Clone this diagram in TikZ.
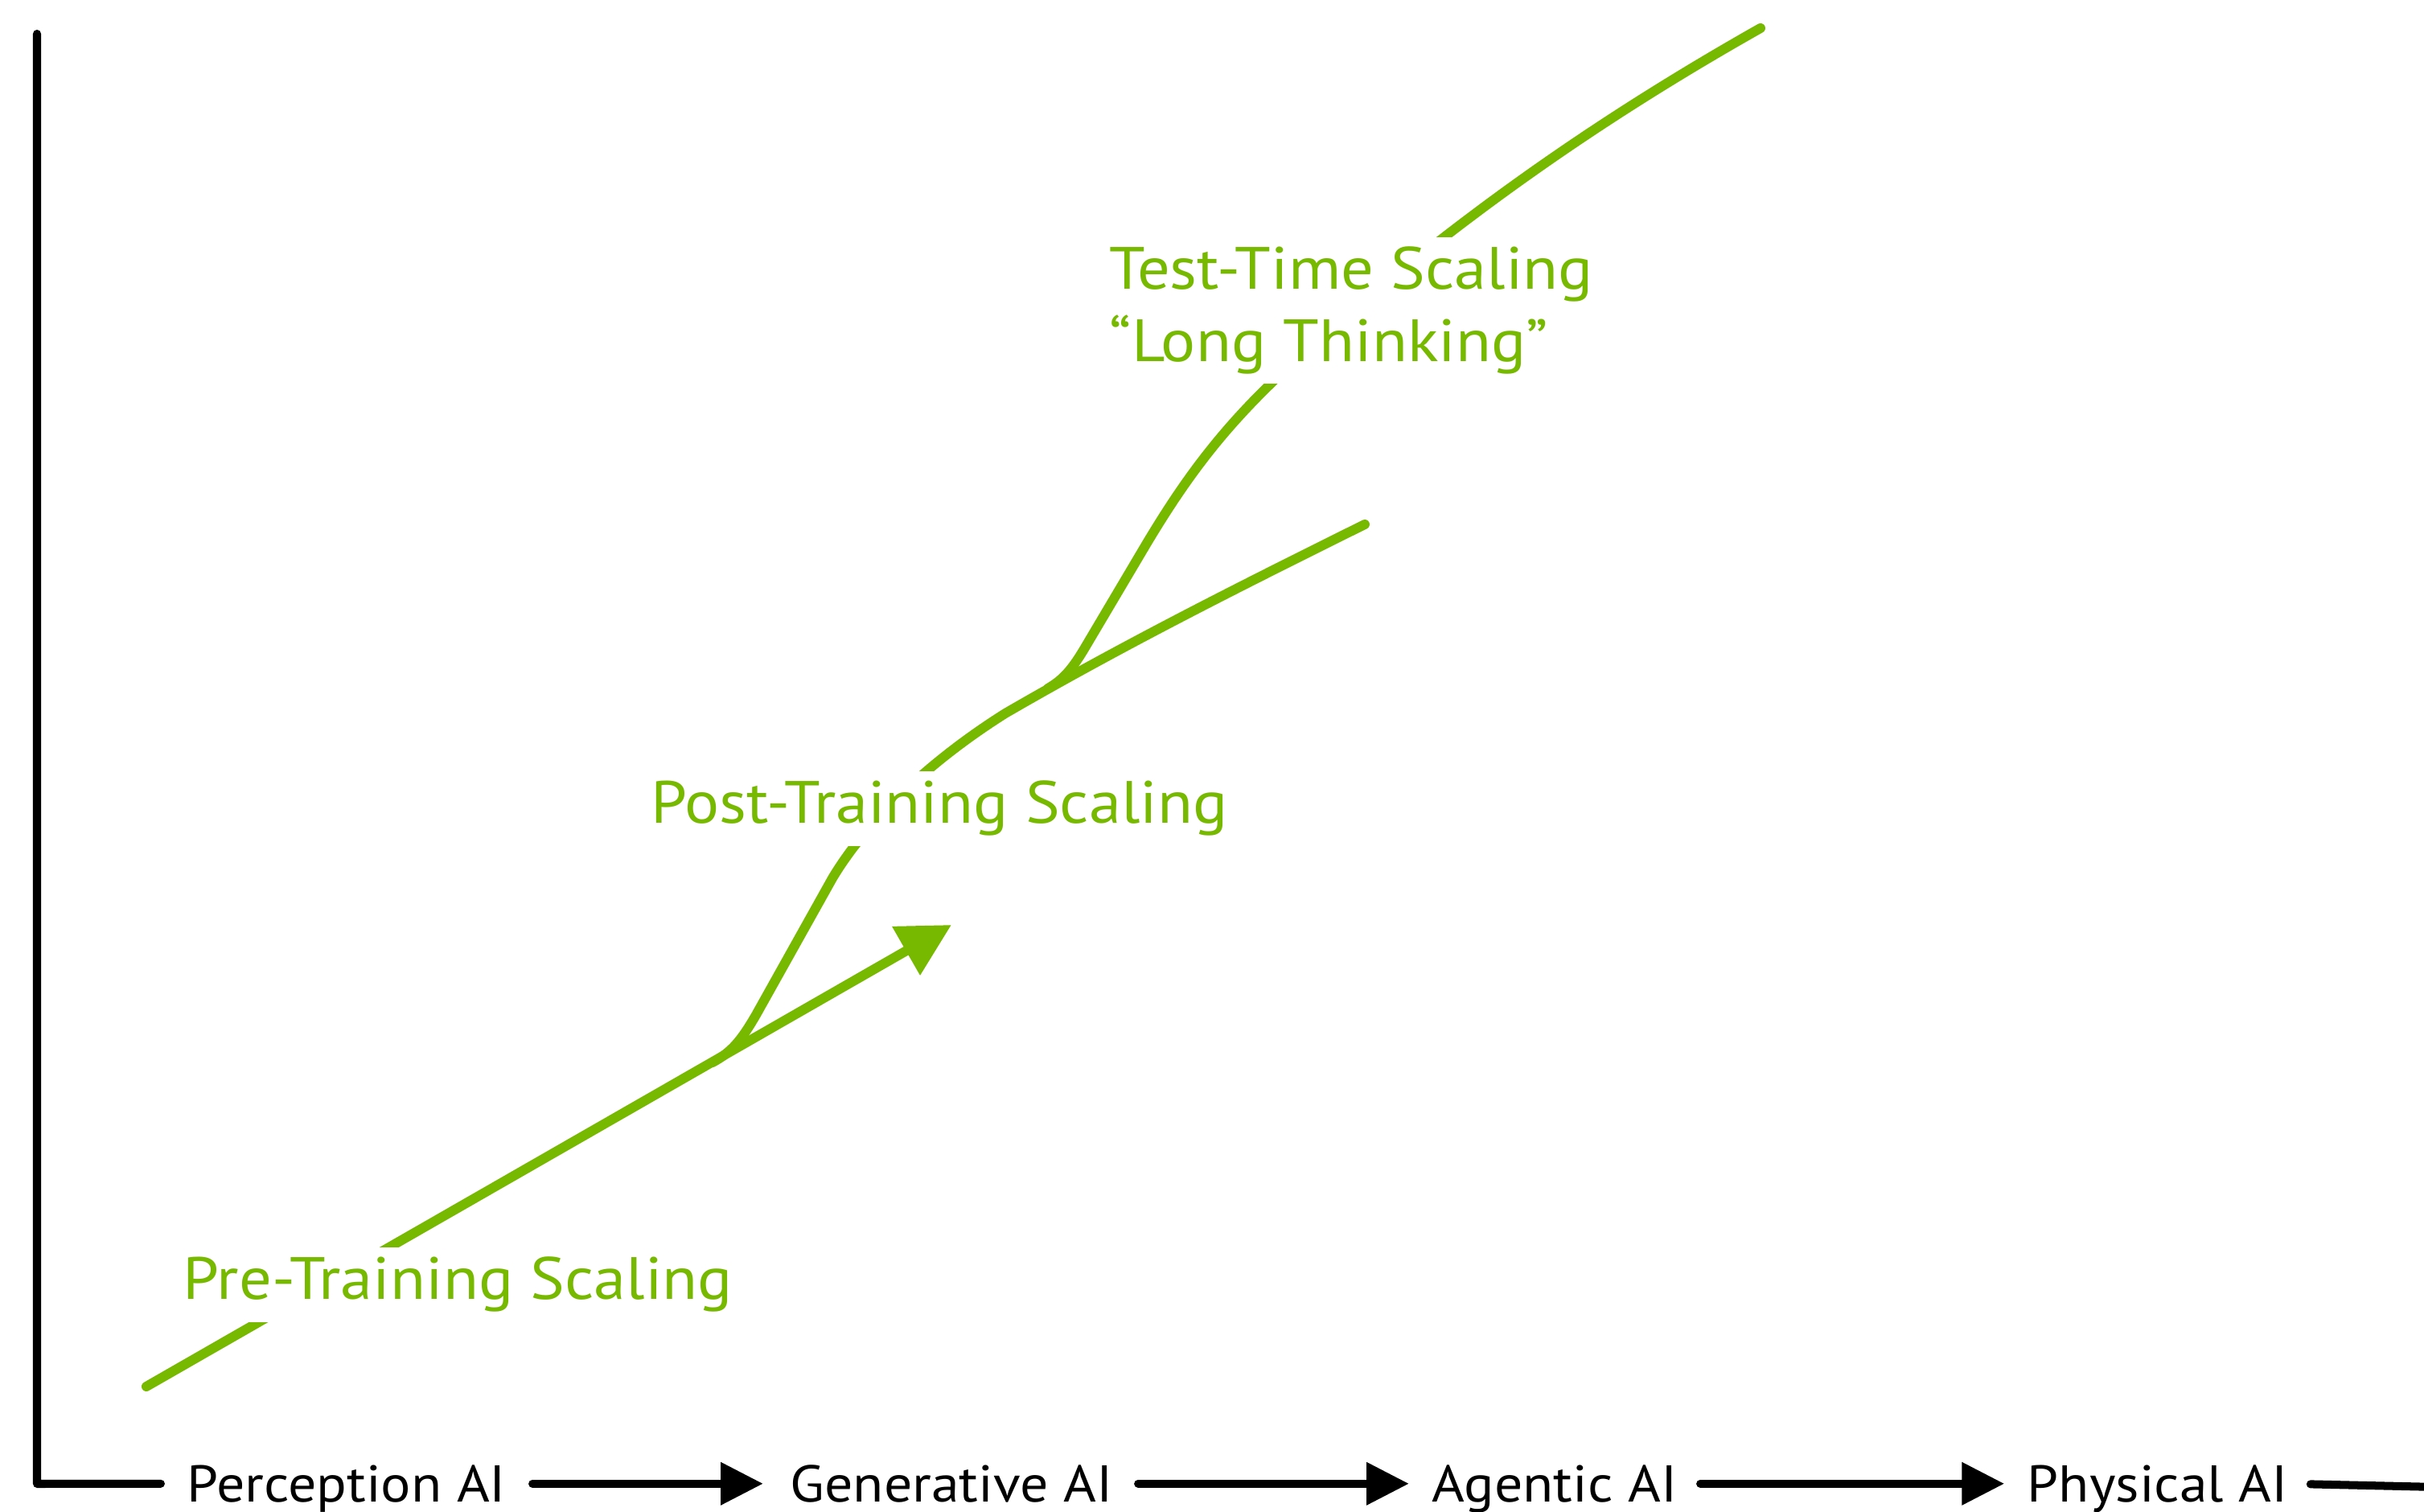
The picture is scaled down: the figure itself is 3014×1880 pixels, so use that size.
\documentclass[tikz,border=0pt]{standalone}
\usepackage{fontspec}
\setmainfont[FakeStretch=1.085]{PT Sans}
\usetikzlibrary{arrows.meta}
\definecolor{nvgreen}{HTML}{76B900}
\begin{document}
\begin{tikzpicture}[x=0.01cm,y=-0.01cm,
  axis/.style={line width=2.85pt, line cap=round, line join=round, black},
  stagearrow/.style={line width=2.85pt, line cap=round, black, -{Triangle[length=15pt,width=14.5pt]}},
  stagelabel/.style={font=\fontsize{18.3}{22}\selectfont, inner sep=0pt, text height=12.8pt, text depth=0pt, anchor=south},
  curve/.style={nvgreen, line width=3.4pt, line cap=round},
  glabel/.style={nvgreen, fill=white, font=\fontsize{21.1}{25.6}\selectfont, inner xsep=0.08cm, inner ysep=0.12cm, align=left},
]
\useasboundingbox (0,0) rectangle (3014,1880);

% green curves
\coordinate (preS) at (182,1724);
\coordinate (preE) at (1183,1150);
\coordinate (postS) at (886,1321);
\coordinate (postE) at (1697,652);
\coordinate (testS) at (1303,856);
\coordinate (testE) at (2189,35);

\draw[curve, -{Triangle[length=18.5pt,width=19pt]}] (preS) -- (preE);
\draw[curve] (postS) .. controls (910,1308) and (922,1293) .. (940,1262)
  -- (1035,1092) .. controls (1075,1025) and (1150,950) .. (1250,887)
  .. controls (1400,800) and (1550,725) .. (postE);
\draw[curve] (testS) .. controls (1322,845) and (1333,832) .. (1348,807)
  -- (1425,677) .. controls (1480,585) and (1530,520) .. (1620,440)
  .. controls (1780,300) and (1950,170) .. (testE);

% green labels
\node[glabel, anchor=base west] (pre) at (219,1616) {Pre-Training Scaling};
\node[glabel, anchor=base west] (post) at (801,1024) {Post-Training Scaling};
\node[glabel, anchor=north west] (test) at (1371,294) {Test-Time Scaling\\“Long Thinking”};

% stage labels
\node[stagelabel, minimum width=3.94cm] (perc) at (431,1868) {Perception AI};
\node[stagelabel, minimum width=3.94cm] (gen) at (1183,1868) {Generative AI};
\node[stagelabel, minimum width=3.00cm] (agent) at (1933,1868) {Agentic AI};
\node[stagelabel, minimum width=3.11cm] (phys) at (2683,1868) {Physical AI};

% axes
\coordinate (ytop) at (46,42);
\coordinate (origin) at (46,1845);
\coordinate (edge) at (3030,1849);
\draw[axis, shorten >=0.32cm] (ytop) -- (origin) -- (perc.west);

\draw[stagearrow, shorten <=0.32cm, shorten >=0.33cm] (perc.east) -- (gen.west);
\draw[stagearrow, shorten <=0.31cm, shorten >=0.28cm] (gen.east) -- (agent.west);
\draw[stagearrow, shorten <=0.28cm, shorten >=0.28cm] (agent.east) -- (phys.west);
\draw[axis, shorten <=0.27cm] (phys.east) -- (edge);
\end{tikzpicture}
\end{document}
